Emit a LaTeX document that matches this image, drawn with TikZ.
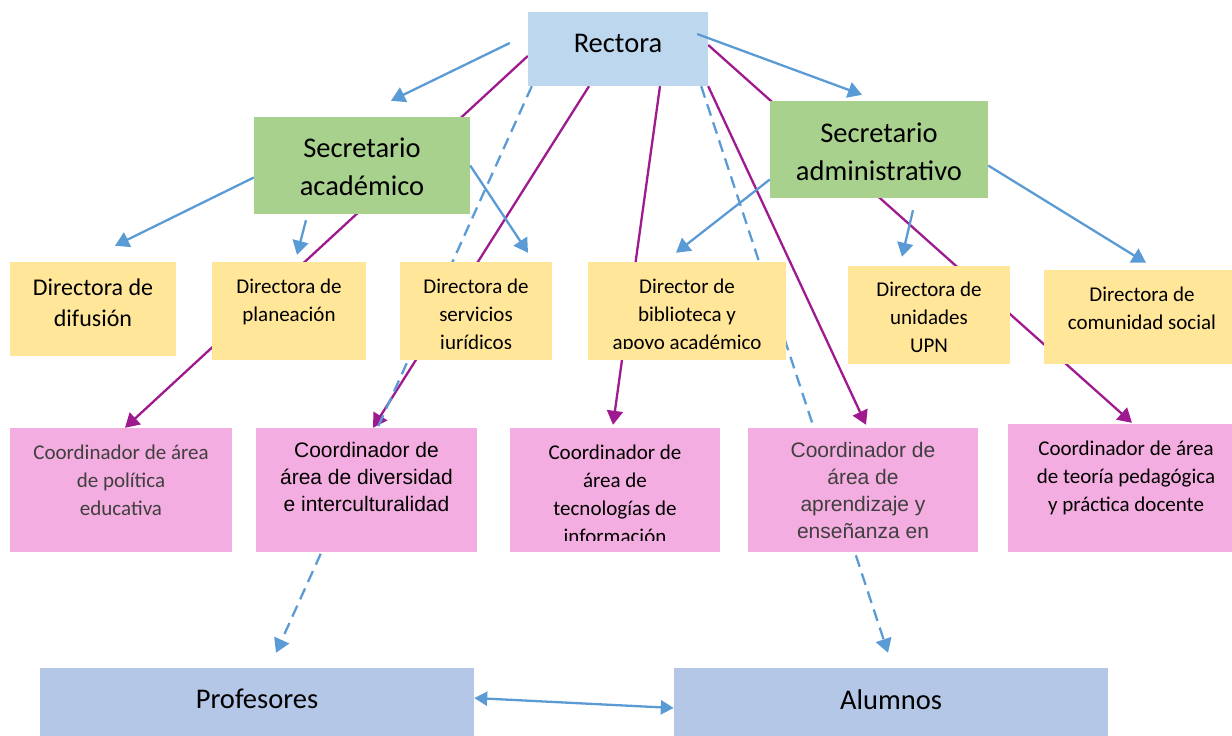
\documentclass[tikz,border=0pt]{standalone}
\usepackage{fontspec}
\setmainfont{Carlito}
\newfontfamily\arialfont{Liberation Sans}
\usepackage{tikz}
\usetikzlibrary{arrows.meta,backgrounds}
\usepackage{xcolor}
\definecolor{rectazul}{HTML}{BDD7EE}
\definecolor{secverde}{HTML}{A9D18E}
\definecolor{diramarillo}{HTML}{FFE699}
\definecolor{coorrosa}{HTML}{F4ADE0}
\definecolor{baseazul}{HTML}{B4C7E7}
\definecolor{flechazul}{HTML}{5B9BD5}
\definecolor{flechamorada}{HTML}{9E1A8E}
\definecolor{grisoscuro}{HTML}{3F3F3F}

\begin{document}
\begin{tikzpicture}[x=1pt,y=-1pt,
		caja/.style={inner sep=0pt},
		texto/.style={align=center,inner sep=0pt,execute at begin node=\strut,execute at end node=\strut},
		jefe/.style={font=\fontsize{28.5}{38}\selectfont},
		dir/.style={font=\fontsize{21}{28}\selectfont},
		arial/.style={font=\arialfont\fontsize{21}{27}\selectfont},
		azul/.style={draw=flechazul,line width=2.3pt,-{Triangle[length=14pt,width=16pt]}},
		morada/.style={draw=flechamorada,line width=2.3pt,-{Triangle[length=14pt,width=16pt]}},
		rayada/.style={azul,dash pattern=on 12pt off 7pt}]
	\useasboundingbox (0,0) rectangle (1232,736);
	% cajas
	\node[caja,fill=rectazul,minimum width=180pt,minimum height=74pt] (rect) at (618,49) {};
	\node[caja,fill=secverde,minimum width=216pt,minimum height=97pt] (sacad) at (362,165.5) {};
	\node[caja,fill=secverde,minimum width=218pt,minimum height=97pt] (sadmin) at (879,149.5) {};
	\node[caja,fill=diramarillo,minimum width=166pt,minimum height=94pt] (ddif) at (93,309) {};
	\node[caja,fill=diramarillo,minimum width=154pt,minimum height=98pt] (dplan) at (289,311) {};
	\node[caja,fill=diramarillo,minimum width=152pt,minimum height=98pt] (djur) at (476,311) {};
	\node[caja,fill=diramarillo,minimum width=198pt,minimum height=98pt] (dbib) at (687,311) {};
	\node[caja,fill=diramarillo,minimum width=162pt,minimum height=98pt] (dupn) at (929,315) {};
	\node[caja,fill=diramarillo,minimum width=188pt,minimum height=94pt] (dcom) at (1138,317) {};
	\node[caja,fill=coorrosa,minimum width=222pt,minimum height=124pt] (cpol) at (121,490) {};
	\node[caja,fill=coorrosa,minimum width=221pt,minimum height=124pt] (cdiv) at (366.5,490) {};
	\node[caja,fill=coorrosa,minimum width=210pt,minimum height=124pt] (ctec) at (615,490) {};
	\node[caja,fill=coorrosa,minimum width=230pt,minimum height=124pt] (capr) at (863,490) {};
	\node[caja,fill=coorrosa,minimum width=224pt,minimum height=128pt] (cteo) at (1120,488) {};
	\node[caja,fill=baseazul,minimum width=434pt,minimum height=68pt] (prof) at (257,702) {};
	\node[caja,fill=baseazul,minimum width=434pt,minimum height=68pt] (alum) at (891,702) {};
	% textos
	\node[texto,jefe] (rect-t) at (618,45) {Rectora};
	\node[texto,jefe] (sacad-t) at (362,172) {Secretario\\académico};
	\node[texto,jefe] (sadmin-t) at (879,157) {Secretario\\administrativo};
	\node[texto,font=\fontsize{24}{31}\selectfont] (ddif-t) at (93,307) {Directora de\\difusión};
	\node[texto,dir] (dplan-t) at (289,304) {Directora de\\planeación};
	\begin{scope}
		\clip (djur.north west) rectangle ([yshift=12pt]djur.south east);
		\node[texto,dir] (djur-t) at (476,318) {Directora de\\servicios\\jurídicos};
	\end{scope}
	\begin{scope}
		\clip (dbib.north west) rectangle ([yshift=12pt]dbib.south east);
		\node[texto,dir] (dbib-t) at (687,318) {Director de\\biblioteca y\\apoyo académico};
	\end{scope}
	\begin{scope}
		\clip (dupn.north west) rectangle ([yshift=12pt]dupn.south east);
		\node[texto,dir] (dupn-t) at (929,321.5) {Directora de\\unidades\\UPN};
	\end{scope}
	\node[texto,dir] (dcom-t) at (1142,312) {Directora de\\comunidad social};
	\node[texto,dir,text=grisoscuro] (cpol-t) at (121,484) {Coordinador de área\\de política\\educativa};
	\node[texto,arial] (cdiv-t) at (366.5,481) {Coordinador de\\área de diversidad\\e interculturalidad};
	\begin{scope}
		\clip (ctec.north west) rectangle ([yshift=12pt]ctec.south east);
		\node[texto,dir] (ctec-t) at (615,498) {Coordinador de\\área de\\tecnologías de\\información};
	\end{scope}
	\node[texto,arial,text=grisoscuro] (capr-t) at (863,494.5) {Coordinador de\\área de\\aprendizaje y\\enseñanza en};
	\node[texto,dir] (cteo-t) at (1126,480) {Coordinador de área\\de teoría pedagógica\\y práctica docente};
	\node[texto,jefe] (prof-t) at (257,701) {Profesores};
	\node[texto,jefe] (alum-t) at (891,702) {Alumnos};
	% lineas de la rectora, por debajo de las cajas
	\begin{scope}[on background layer]
		\draw[morada] ([yshift=-7pt]rect.west) -- ([xshift=4pt]cpol.north);
		\draw[morada] ([xshift=-29pt]rect.south) -- ([xshift=6.5pt]cdiv.north);
		\draw[morada] ([xshift=42pt]rect.south) -- ([xshift=-2pt,yshift=3pt]ctec.north);
		\draw[morada] (rect.south east) -- ([xshift=3pt,yshift=3pt]capr.north);
		\draw[morada] ([yshift=4pt]rect.east) -- ([xshift=12pt,yshift=1pt]cteo.north);
		\draw[rayada] ([xshift=4pt]rect.south west) -- ([xshift=19pt,yshift=15pt]prof.north);
		\draw[rayada] ([xshift=-7pt]rect.south east) -- ([xshift=-3pt,yshift=15pt]alum.north);
	\end{scope}
	\draw[azul] ([xshift=-18pt,yshift=6pt]rect.west) -- ([xshift=29pt,yshift=16pt]sacad.north);
	\draw[azul] ([xshift=-11pt,yshift=15pt]rect.east) -- ([xshift=-17pt,yshift=6pt]sadmin.north);
	\draw[azul] ([yshift=-12pt]sacad.west) -- ([xshift=22pt,yshift=16pt]ddif.north);
	\draw[azul] ([xshift=-56pt,yshift=-6pt]sacad.south) -- ([xshift=8pt,yshift=7pt]dplan.north);
	\draw[azul] (sacad.east) -- ([xshift=52pt,yshift=9pt]djur.north);
	\draw[azul] ([yshift=-30pt]sadmin.west) -- ([xshift=-11pt,yshift=9pt]dbib.north);
	\draw[azul] ([xshift=34pt,yshift=-12pt]sadmin.south) -- ([xshift=-27pt,yshift=9pt]dupn.north);
	\draw[azul] ([yshift=-16pt]sadmin.east) -- ([xshift=8pt,yshift=7pt]dcom.north);
	\draw[azul,{Triangle[length=13pt,width=14pt]}-{Triangle[length=13pt,width=14pt]}] ([yshift=4pt]prof.east) -- ([yshift=-6pt]alum.west);
\end{tikzpicture}
\end{document}
